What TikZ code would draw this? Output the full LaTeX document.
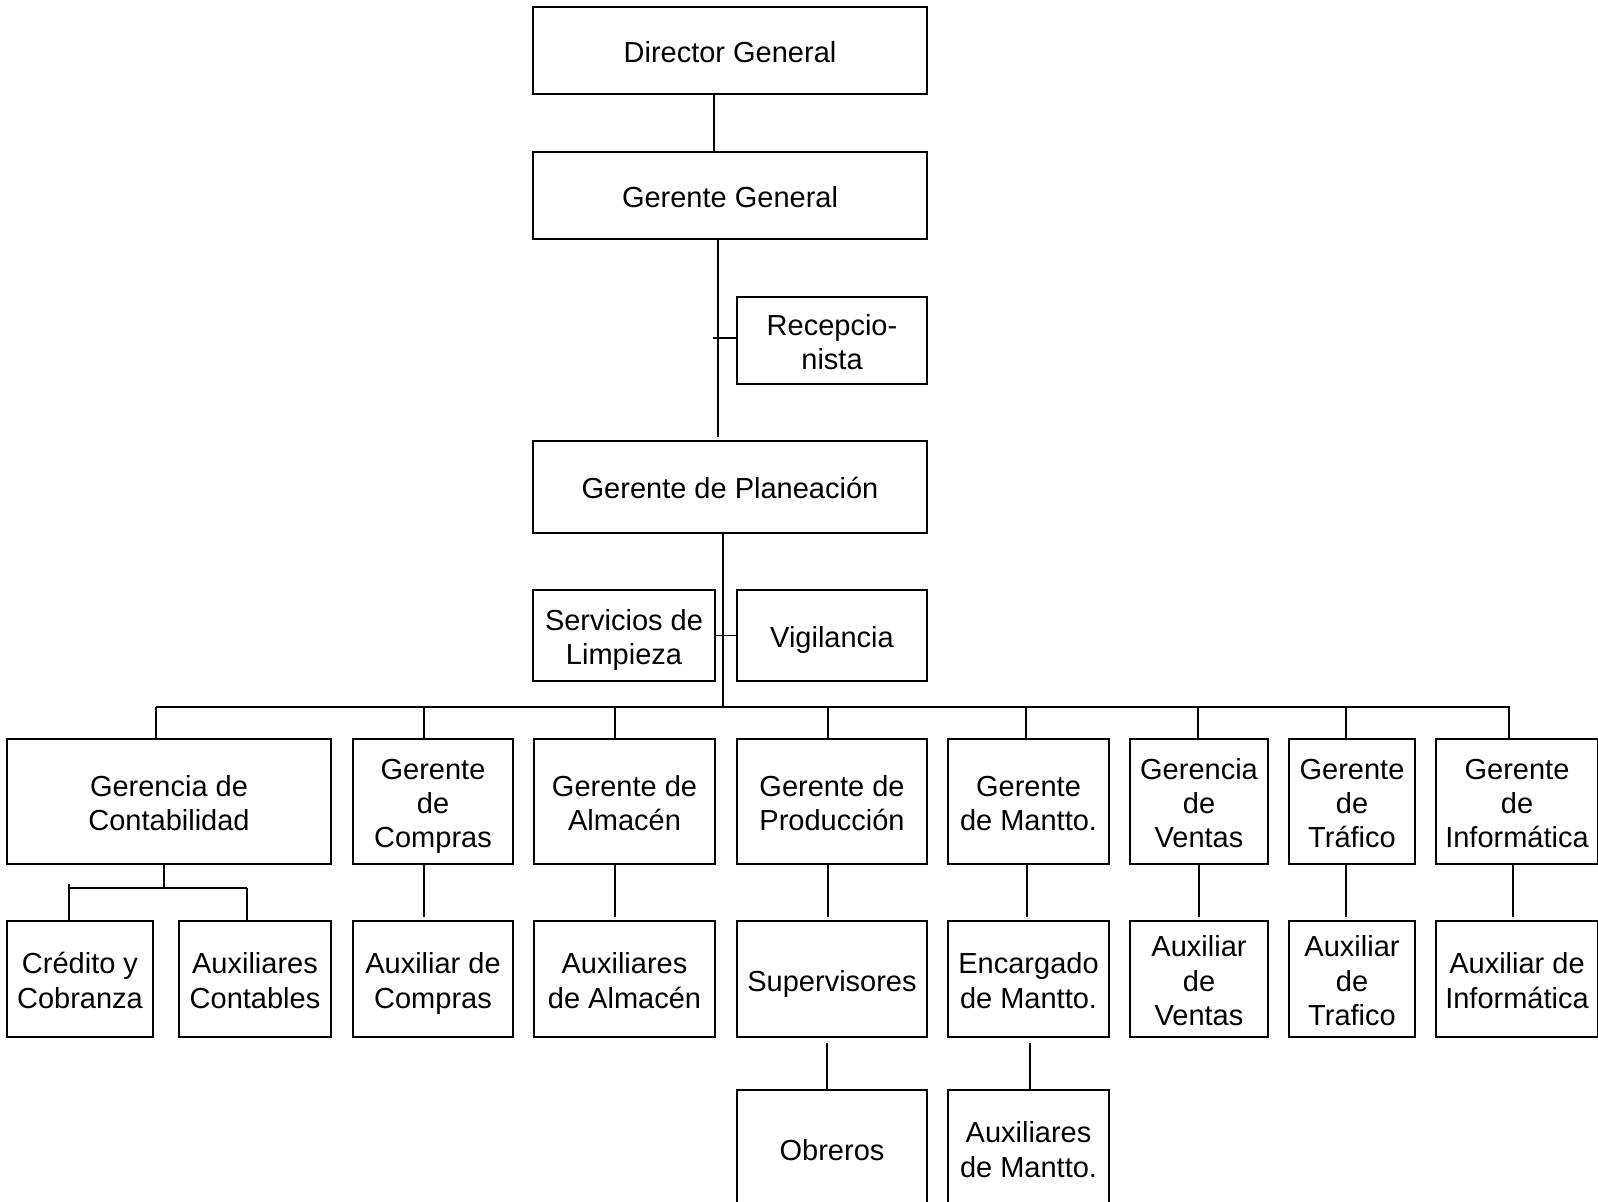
\documentclass[tikz,border=0pt]{standalone}
\usepackage{fontspec}
\setmainfont{Liberation Sans}
\newcommand{\fs}{\rule[-3.1pt]{0pt}{18.2pt}}
\newcommand{\ls}{\rule[-3.1pt]{0pt}{3.1pt}}
\begin{document}
\begin{tikzpicture}[x=0.5pt,y=-0.5pt,
  box/.style={draw, line width=1.1pt, inner sep=0pt, align=center,
    font=\fontsize{14.5pt}{17.2pt}\selectfont},
  conn/.style={line width=0.9pt}]
\useasboundingbox (0,0) rectangle (1598,1202);
% top
\node[box, minimum width=197pt, minimum height=43.5pt] (dir) at (730,50.5) {\fs Director General\ls};
\node[box, minimum width=197pt, minimum height=43.5pt] (gg) at (730,195.5) {\fs Gerente General\ls};
\node[box, minimum width=95pt, minimum height=43.5pt] (rec) at (832,340.5) {\fs Recepcio-\\nista\ls};
\node[box, minimum width=197pt, minimum height=46pt] (plan) at (730,487) {\fs Gerente de Planeación\ls};
\node[box, minimum width=91pt, minimum height=45.5pt] (serv) at (624,635.5) {\fs Servicios de\\Limpieza\ls};
\node[box, minimum width=95pt, minimum height=45.5pt] (vig) at (832,635.5) {\fs Vigilancia\ls};
% row 2
\node[box, minimum width=162pt, minimum height=62.5pt] (cont) at (169,801.5) {\fs Gerencia de\\Contabilidad\ls};
\node[box, minimum width=80pt, minimum height=62.5pt] (comp) at (433,801.5) {\fs Gerente\\de\\Compras\ls};
\node[box, minimum width=90.5pt, minimum height=62.5pt] (alm) at (624.5,801.5) {\fs Gerente de\\Almacén\ls};
\node[box, minimum width=95pt, minimum height=62.5pt] (prod) at (832,801.5) {\fs Gerente de\\Producción\ls};
\node[box, minimum width=80.5pt, minimum height=62.5pt] (mant) at (1028.5,801.5) {\fs Gerente\\de Mantto.\ls};
\node[box, minimum width=69pt, minimum height=62.5pt] (vent) at (1199,801.5) {\fs Gerencia\\de\\Ventas\ls};
\node[box, minimum width=63pt, minimum height=62.5pt] (traf) at (1352,801.5) {\fs Gerente\\de\\Tráfico\ls};
\node[box, minimum width=81pt, minimum height=62.5pt] (inf) at (1517,801.5) {\fs Gerente\\de\\Informática\ls};
% row 3
\node[box, minimum width=73pt, minimum height=58pt] (cred) at (80,979) {\fs Crédito y\\Cobranza\ls};
\node[box, minimum width=76pt, minimum height=58pt] (auxc) at (255,979) {\fs Auxiliares\\Contables\ls};
\node[box, minimum width=80pt, minimum height=58pt] (auxcomp) at (433,979) {\fs Auxiliar de\\Compras\ls};
\node[box, minimum width=90.5pt, minimum height=58pt] (auxalm) at (624.5,979) {\fs Auxiliares\\de Almacén\ls};
\node[box, minimum width=95pt, minimum height=58pt] (sup) at (832,979) {\fs Supervisores\ls};
\node[box, minimum width=80.5pt, minimum height=58pt] (enc) at (1028.5,979) {\fs Encargado\\de Mantto.\ls};
\node[box, minimum width=69pt, minimum height=58pt] (auxv) at (1199,979) {\fs Auxiliar\\de\\Ventas\ls};
\node[box, minimum width=63pt, minimum height=58pt] (auxt) at (1352,979) {\fs Auxiliar\\de\\Trafico\ls};
\node[box, minimum width=81pt, minimum height=58pt] (auxi) at (1517,979) {\fs Auxiliar de\\Informática\ls};
% row 4
\node[box, minimum width=95pt, minimum height=58pt] (obr) at (832,1148) {\fs Obreros\ls};
\node[box, minimum width=80.5pt, minimum height=58pt] (auxm) at (1028.5,1148) {\fs Auxiliares\\de Mantto.\ls};
% top connectors
\draw[conn] ([xshift=-8pt]dir.south) -- ([xshift=-8pt]gg.north);
\draw[conn] ([xshift=-6pt]gg.south) -- ([xshift=-6pt,yshift=1.5pt]plan.north);
\draw[conn] (rec.west) ++(0,-2.5) -- ++(-23,0);
\draw[conn] ([xshift=-3.5pt]plan.south) -- ++(0,174);
\draw[conn] (serv.east) -- (vig.west);
% bus
\coordinate (bl) at (156,707);
\coordinate (br) at (1510,707);
\draw[conn] (bl) -- (br);
\foreach \x/\n in {156/cont,424/comp,615/alm,828/prod,1026/mant,1198/vent,1346/traf,1509/inf}
  \draw[conn] (\x,707) -- (\x,707 |- \n.north);
% row2 -> row3
\foreach \x/\a/\b in {424/comp/auxcomp,615/alm/auxalm,828/prod/sup,1027/mant/enc,1199/vent/auxv,1346/traf/auxt,1513/inf/auxi}
  \draw[conn] (\x,0 |- \a.south) -- ([yshift=1.5pt]\x,0 |- \b.north);
% contabilidad split
\coordinate (cj) at (164,888);
\draw[conn] (164,0 |- cont.south) -- (cj);
\draw[conn] (69,888) -- (247,888);
\draw[conn] (69,884) -- (69,0 |- cred.north);
\draw[conn] (247,888) -- (247,0 |- auxc.north);
% row3 -> row4
\draw[conn] ([yshift=-2.5pt]827,0 |- sup.south) -- (827,0 |- obr.north);
\draw[conn] ([yshift=-2.5pt]1030,0 |- enc.south) -- (1030,0 |- auxm.north);
\end{tikzpicture}
\end{document}
